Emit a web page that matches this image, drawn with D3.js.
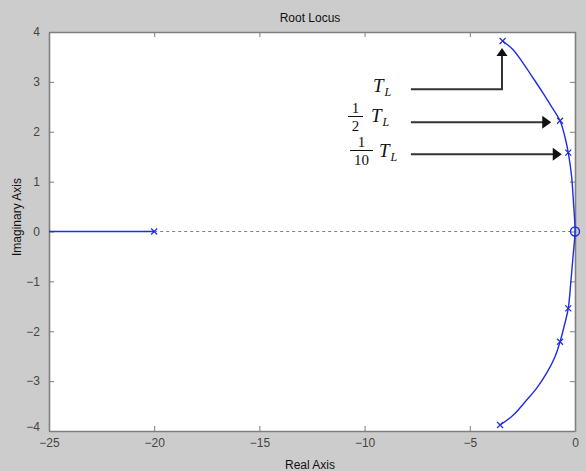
<!DOCTYPE html>
<html><head><meta charset="utf-8">
<script src="https://cdn.jsdelivr.net/npm/d3@7"></script>
<style>
html,body{margin:0;padding:0;background:#cccccc;}
svg{display:block;}
</style></head>
<body>
<svg id="chart" width="586" height="471"></svg>
<script>
// ---- data ----
const xTicks = [-25, -20, -15, -10, -5, 0];
const yTicks = [-4, -3, -2, -1, 0, 1, 2, 3, 4];
const realAxisBranch = [[-25, 0], [-20, 0]];
const complexBranch = [
  [-3.44, 3.82], [-2.93, 3.64], [-2.46, 3.37], [-1.98, 3.07], [-1.51, 2.77],
  [-1.11, 2.50], [-0.71, 2.22], [-0.48, 1.90], [-0.32, 1.58], [-0.16, 1.10],
  [-0.08, 0.63], [0, 0],
  [-0.08, -0.44], [-0.19, -0.97], [-0.32, -1.54], [-0.48, -1.84], [-0.71, -2.21],
  [-0.95, -2.51], [-1.35, -2.84], [-1.82, -3.14], [-2.30, -3.38], [-2.93, -3.68],
  [-3.56, -3.88]
];
const openLoopPoles = [[-20, 0], [-3.44, 3.82], [-3.56, -3.88]];
const closedLoopPoles = [[-0.71, 2.22], [-0.32, 1.58], [-0.71, -2.21], [-0.32, -1.54]];
const openLoopZeros = [[0, 0]];
// annotation arrows
const arrows = [
  {frac: null, y: 2.85, x0: -7.8, tipX: -3.47, tipY: 3.68},
  {frac: "2", y: 2.19, x0: -7.8, tipX: -1.13, tipY: 2.19},
  {frac: "10", y: 1.55, x0: -7.8, tipX: -0.63, tipY: 1.55}
];

// ---- layout ----
const svg = d3.select("#chart");
const L = 49, R = 575, T = 32, B = 431;
const x = d3.scaleLinear().domain([-25, 0]).range([L, R]);
const y = d3.scaleLinear().domain([-4, 4]).range([B, T]);
const blue = "#1e2de0";
const frameCol = "#7f7f7f";

svg.append("rect").attr("width", 586).attr("height", 471).attr("fill", "#cccccc");
svg.append("rect").attr("x", L).attr("y", T).attr("width", R - L).attr("height", B - T).attr("fill", "#ffffff");

const fontFam = "'Liberation Sans', Arial, Helvetica, sans-serif";
const gx = svg.append("g").attr("transform", `translate(0,${B})`)
  .call(d3.axisBottom(x).tickValues(xTicks).tickSizeInner(-5).tickSizeOuter(0).tickPadding(9).tickFormat(d3.format("d")));
const gxt = svg.append("g").attr("transform", `translate(0,${T})`)
  .call(d3.axisTop(x).tickValues(xTicks).tickSizeInner(-5).tickSizeOuter(0).tickFormat(""));
const gy = svg.append("g").attr("transform", `translate(${L},0)`)
  .call(d3.axisLeft(y).tickValues(yTicks).tickSizeInner(-5).tickSizeOuter(0).tickPadding(9).tickFormat(d3.format("d")));
const gyr = svg.append("g").attr("transform", `translate(${R},0)`)
  .call(d3.axisRight(y).tickValues(yTicks).tickSizeInner(-5).tickSizeOuter(0).tickFormat(""));
[gx, gxt, gy, gyr].forEach(g => {
  g.select(".domain").attr("stroke", frameCol).attr("stroke-width", 1.6);
  g.selectAll(".tick line").attr("stroke", frameCol).attr("stroke-width", 1);
  g.selectAll("text").attr("fill", "#444").attr("font-family", fontFam).attr("font-size", 12);
});
gy.selectAll(".tick text").filter(d => d === -4).attr("dy", "-0.05em");
gx.selectAll(".tick text").attr("dy", "0.55em");

// dotted zero line
svg.append("line").attr("x1", x(-20)).attr("x2", x(0)).attr("y1", y(0)).attr("y2", y(0))
  .attr("stroke", "#808080").attr("stroke-width", 1.2).attr("stroke-dasharray", "3,3");

// loci
const line = d3.line().x(d => x(d[0])).y(d => y(d[1]));
svg.append("path").datum(realAxisBranch).attr("d", line)
  .attr("fill", "none").attr("stroke", blue).attr("stroke-width", 1.6);
svg.append("path").datum(complexBranch).attr("d", line.curve(d3.curveCatmullRom))
  .attr("fill", "none").attr("stroke", blue).attr("stroke-width", 1.4);

// markers
function xMark(data, s) {
  svg.append("g").selectAll("path").data(data).join("path")
    .attr("d", d => `M${x(d[0]) - s},${y(d[1]) - s}L${x(d[0]) + s},${y(d[1]) + s}M${x(d[0]) - s},${y(d[1]) + s}L${x(d[0]) + s},${y(d[1]) - s}`)
    .attr("stroke", blue).attr("stroke-width", 1.2).attr("fill", "none");
}
xMark(openLoopPoles, 3);
xMark(closedLoopPoles, 3);
svg.append("g").selectAll("circle").data(openLoopZeros).join("circle")
  .attr("cx", d => x(d[0])).attr("cy", d => y(d[1])).attr("r", 4.5)
  .attr("fill", "none").attr("stroke", blue).attr("stroke-width", 1.4);

// annotations
const arrCol = "#333333";
arrows.forEach((a, i) => {
  const g = svg.append("g");
  const y0 = y(a.y), x0 = x(a.x0), tx = x(a.tipX), ty = y(a.tipY);
  if (i === 0) {
    g.append("path").attr("d", `M${x0},${y0}H${tx}V${ty + 8}`)
      .attr("fill", "none").attr("stroke", arrCol).attr("stroke-width", 2);
    g.append("path").attr("d", `M${tx},${ty}L${tx - 5.5},${ty + 8}L${tx + 5.5},${ty + 8}Z`).attr("fill", "#111");
  } else {
    g.append("path").attr("d", `M${x0},${y0}H${tx - 8}`)
      .attr("fill", "none").attr("stroke", arrCol).attr("stroke-width", 2);
    g.append("path").attr("d", `M${tx},${y0}L${tx - 9},${y0 - 6.5}L${tx - 9},${y0 + 6.5}Z`).attr("fill", "#111");
  }
  const serif = "'Liberation Serif', 'DejaVu Serif', Times, serif";
  const tX = i === 0 ? 373 : (i === 1 ? 371 : 379);
  const tY = i === 0 ? 92 : (i === 1 ? 122 : 157);
  const t = g.append("text").attr("x", tX).attr("y", tY).attr("font-family", serif)
    .attr("font-style", "italic").attr("font-size", 19).attr("fill", "#111");
  t.append("tspan").text("T");
  t.append("tspan").attr("font-size", 12).attr("dx", 1).attr("dy", 4).text("L");
  if (a.frac) {
    const cx = i === 1 ? 355.5 : 361.5;
    const barY = i === 1 ? 116.5 : 150.5;
    const hw = i === 1 ? 7.5 : 11.5;
    g.append("line").attr("x1", cx - hw).attr("x2", cx + hw).attr("y1", barY).attr("y2", barY)
      .attr("stroke", "#111").attr("stroke-width", 1);
    g.append("text").attr("x", cx).attr("y", barY - 4).attr("text-anchor", "middle")
      .attr("font-family", serif).attr("font-size", 15).attr("fill", "#111").text("1");
    g.append("text").attr("x", cx).attr("y", barY + 14).attr("text-anchor", "middle")
      .attr("font-family", serif).attr("font-size", 15).attr("fill", "#111").text(a.frac);
  }
});

// titles
svg.append("text").attr("x", 310).attr("y", 22).attr("text-anchor", "middle")
  .attr("font-family", fontFam).attr("font-size", 12).attr("fill", "#111").text("Root Locus");
svg.append("text").attr("x", 310).attr("y", 469).attr("text-anchor", "middle")
  .attr("font-family", fontFam).attr("font-size", 12).attr("fill", "#111").text("Real Axis");
svg.append("text").attr("transform", "translate(21,217) rotate(-90)").attr("text-anchor", "middle")
  .attr("font-family", fontFam).attr("font-size", 12).attr("fill", "#111").text("Imaginary Axis");
</script>
</body></html>
